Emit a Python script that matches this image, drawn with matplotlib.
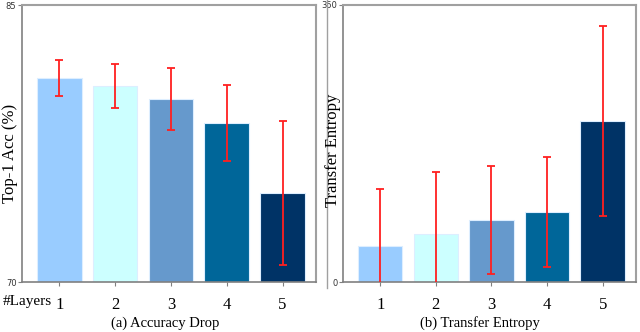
import matplotlib
matplotlib.use("Agg")
import matplotlib.pyplot as plt
from matplotlib.lines import Line2D

layers = [1, 2, 3, 4, 5]
tick_labels = ["1", "2", "3", "4", "5"]
colors = ["#99CCFF", "#CCFFFF", "#6699CC", "#006699", "#003366"]

acc_mean = [81.05, 80.6, 79.9, 78.6, 74.8]
acc_err = [0.97, 1.18, 1.67, 2.05, 3.9]

te_mean = [46, 61, 78, 89, 203]
te_err = [72, 78, 68, 69.5, 120]

serif = ["Liberation Serif", "DejaVu Serif"]
sans = ["DejaVu Sans"]

fig = plt.figure(figsize=(6.4, 3.32), dpi=100)

def style(ax, ylim, yticks):
    ax.set_ylim(*ylim)
    ax.set_xlim(0.33, 5.6)
    for s in ["top", "right"]:
        ax.spines[s].set_color("#A0A0A0")
        ax.spines[s].set_linewidth(1.5)
    for s in ["left", "bottom"]:
        ax.spines[s].set_color("#808080")
        ax.spines[s].set_linewidth(1.2)
    ax.set_yticks(yticks)
    ax.set_yticklabels([str(v) for v in yticks], fontsize=6, color="#333333", family=sans)
    ax.tick_params(axis="y", length=3, width=0.8, color="#808080", pad=1)
    ax.set_xticks(layers)
    ax.set_xticklabels(tick_labels, fontsize=12, family=serif)
    ax.tick_params(axis="x", length=3, width=0.8, color="#808080", pad=8)

ax1 = fig.add_axes([22/640, 50/332, 294/640, 277/332])
ax1.bar(layers, [m - 70 for m in acc_mean], bottom=70, width=0.8, color=colors,
        edgecolor="#DDEEFF", linewidth=0.8, zorder=2)
ax1.errorbar(layers, acc_mean, yerr=acc_err, fmt="none", ecolor="#FF2020",
             elinewidth=1.3, capsize=3, capthick=1.3, zorder=3)
style(ax1, (70, 85), [70, 85])
fig.text(10/640, 1 - 153/332, "Top-1 Acc (%)", fontsize=12, family=serif,
         rotation=90, va="center", ha="center")
fig.text(3/640, 1 - 302/332, "#Layers", fontsize=11, family=serif, va="center", ha="left")
fig.text(165/640, 1 - 323/332, "(a) Accuracy Drop", fontsize=10.5, family=serif, va="center", ha="center")

ax2 = fig.add_axes([343/640, 50/332, 293/640, 277/332])
ax2.bar(layers, te_mean, width=0.8, color=colors,
        edgecolor="#DDEEFF", linewidth=0.8, zorder=2)
ax2.errorbar(layers, te_mean, yerr=te_err, fmt="none", ecolor="#FF2020",
             elinewidth=1.3, capsize=3, capthick=1.3, zorder=3, clip_on=True)
style(ax2, (0, 350), [0, 350])
fig.text(333/640, 1 - 150/332, "Transfer Entropy", fontsize=12, family=serif,
         rotation=90, va="center", ha="center")
fig.text(480/640, 1 - 323/332, "(b) Transfer Entropy", fontsize=10.5, family=serif, va="center", ha="center")

fig.add_artist(Line2D([326.5/640, 326.5/640], [1 - 288/332, 1.0], transform=fig.transFigure,
                      color="#A0A0A0", linewidth=1.0))

fig.savefig("out.png", dpi=100)
